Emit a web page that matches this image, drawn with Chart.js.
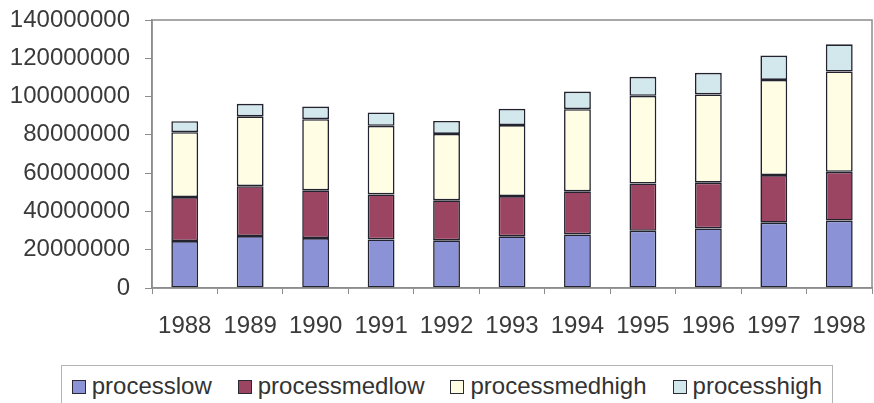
<!DOCTYPE html>
<html>
<head>
<meta charset="utf-8">
<script src="https://cdn.jsdelivr.net/npm/chart.js@4.4.1/dist/chart.umd.min.js"></script>
<style>
  html, body { margin: 0; padding: 0; background: #ffffff; }
  #wrap { position: relative; width: 874px; height: 403px; overflow: hidden; }
  #legend {
    position: absolute; top: 365px; right: 41px; height: 60px;
    border: 1px solid #b4b4b4; background: #fff;
    font-family: "Liberation Sans", Arial, sans-serif; font-size: 24px; color: #333;
    display: flex; align-items: flex-start; padding: 6px 10px 0 10px; box-sizing: border-box;
    white-space: nowrap;
  }
  .item { display: flex; align-items: center; margin-right: 26px; line-height: 28px; }
  .item:last-child { margin-right: 0; }
  .swatch { width: 12px; height: 12px; border: 1.5px solid #2a2a35; margin-right: 6px; margin-top: 2px; }
</style>
</head>
<body>
<div id="wrap">
  <canvas id="c" width="874" height="403"></canvas>
  <div id="legend"></div>
</div>
<script>
// Years on the category axis
const years = ['1988', '1989', '1990', '1991', '1992', '1993', '1994', '1995', '1996', '1997', '1998'];

// Stacked series, bottom to top
const processlow     = [24500000, 27100000, 26100000, 25400000, 24900000, 27000000, 28000000, 29900000, 31100000, 34100000, 35200000];
const processmedlow  = [23000000, 26100000, 24900000, 23500000, 20900000, 21000000, 22500000, 24700000, 23900000, 24900000, 25500000];
const processmedhigh = [33900000, 36500000, 37200000, 35800000, 34700000, 37100000, 42900000, 45800000, 46100000, 49700000, 52400000];
const processhigh    = [5700000, 6500000, 6600000, 7000000, 6800000, 8500000, 9200000, 9900000, 11300000, 12700000, 14200000];

// Value axis ticks
const yTicks = [0, 20000000, 40000000, 60000000, 80000000, 100000000, 120000000, 140000000];

const seriesNames = ['processlow', 'processmedlow', 'processmedhigh', 'processhigh'];
const seriesData = [processlow, processmedlow, processmedhigh, processhigh];
const seriesColors = ['#8b93d6', '#9c4562', '#fffde3', '#d3e8ed'];

const font = { family: '"Liberation Sans", Arial, sans-serif', size: 24 };
const textColor = '#3a3a3a';
const frameColor = '#8c8c8c';

// Thin grey frame around the plotting area
const plotFrame = {
  id: 'plotFrame',
  afterDraw(chart) {
    const a = chart.chartArea, ctx = chart.ctx;
    ctx.save();
    ctx.strokeStyle = frameColor;
    ctx.lineWidth = 1.5;
    ctx.strokeRect(a.left, a.top, a.right - a.left, a.bottom - a.top);
    ctx.restore();
  }
};

new Chart(document.getElementById('c'), {
  type: 'bar',
  data: {
    labels: years,
    datasets: seriesNames.map((name, i) => ({
      label: name,
      data: seriesData[i],
      backgroundColor: seriesColors[i],
      borderColor: '#23232f',
      borderWidth: 1.6,
      borderSkipped: false,
      categoryPercentage: 1.0,
      barPercentage: 0.41
    }))
  },
  options: {
    responsive: false,
    devicePixelRatio: 1,
    animation: false,
    layout: { padding: { top: 20, right: 2, bottom: 0, left: 0 } },
    plugins: { legend: { display: false }, tooltip: { enabled: false } },
    scales: {
      x: {
        stacked: true,
        offset: true,
        grid: { display: true, drawOnChartArea: false, offset: true, tickLength: 6, color: frameColor, lineWidth: 1 },
        border: { display: true, color: frameColor, width: 1.5 },
        ticks: { font: font, color: textColor, padding: 18, maxRotation: 0, autoSkip: false },
        afterFit(scale) { scale.height = 115; scale.paddingLeft = 0; scale.paddingRight = 0; }
      },
      y: {
        stacked: true,
        min: 0,
        max: 140000000,
        afterBuildTicks(scale) { scale.ticks = yTicks.map(v => ({ value: v })); },
        grid: { display: true, drawOnChartArea: false, tickLength: 7, color: frameColor, lineWidth: 1 },
        border: { display: true, color: frameColor, width: 1.5 },
        ticks: { font: font, color: textColor, padding: 15, callback: v => String(v) },
        afterFit(scale) { scale.width = 152; scale.paddingTop = 0; scale.paddingBottom = 0; }
      }
    }
  },
  plugins: [plotFrame]
});

// Legend row under the chart
const legend = document.getElementById('legend');
seriesNames.forEach((name, i) => {
  const item = document.createElement('div');
  item.className = 'item';
  const sw = document.createElement('span');
  sw.className = 'swatch';
  sw.style.background = seriesColors[i];
  const label = document.createElement('span');
  label.textContent = name;
  item.appendChild(sw);
  item.appendChild(label);
  legend.appendChild(item);
});
</script>
</body>
</html>
